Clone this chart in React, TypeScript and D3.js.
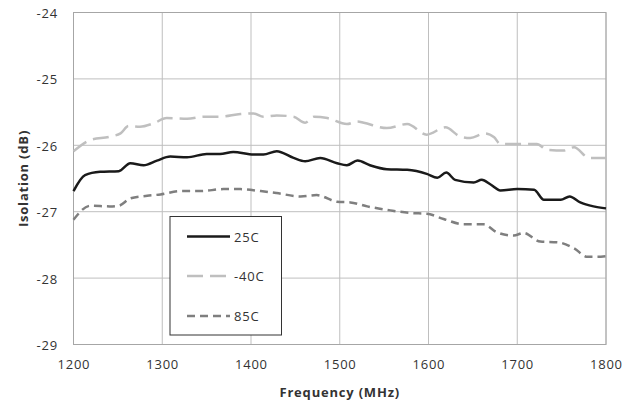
import React from "react";
import * as d3 from "d3";

const xTicks = [1200, 1300, 1400, 1500, 1600, 1700, 1800];
const yTicks = [-24, -25, -26, -27, -28, -29];

const freq25 = [1200, 1213, 1230, 1251, 1264, 1279, 1294, 1309, 1328, 1350, 1365, 1380, 1403, 1414, 1429, 1448, 1461, 1478, 1497, 1508, 1520, 1534, 1553, 1576, 1598, 1610, 1620, 1630, 1651, 1660, 1670, 1681, 1700, 1719, 1730, 1749, 1759, 1771, 1786, 1800];
const val25 = [-26.69, -26.45, -26.4, -26.39, -26.27, -26.3, -26.23, -26.17, -26.18, -26.13, -26.13, -26.1, -26.14, -26.14, -26.09, -26.19, -26.24, -26.19, -26.27, -26.3, -26.23, -26.3, -26.36, -26.37, -26.43, -26.49, -26.41, -26.52, -26.56, -26.52, -26.59, -26.68, -26.66, -26.67, -26.82, -26.82, -26.77, -26.86, -26.92, -26.95];

const freqM40 = [1200, 1219, 1241, 1253, 1262, 1275, 1290, 1305, 1328, 1347, 1365, 1388, 1403, 1414, 1429, 1448, 1461, 1471, 1486, 1508, 1520, 1527, 1553, 1576, 1598, 1619, 1636, 1647, 1664, 1674, 1681, 1715, 1722, 1734, 1752, 1764, 1781, 1790, 1800];
const valM40 = [-26.09, -25.92, -25.87, -25.82, -25.71, -25.72, -25.67, -25.59, -25.6, -25.57, -25.57, -25.53, -25.52, -25.57, -25.55, -25.57, -25.66, -25.57, -25.59, -25.68, -25.64, -25.66, -25.74, -25.68, -25.84, -25.73, -25.87, -25.89, -25.82, -25.88, -25.98, -25.98, -25.98, -26.07, -26.08, -26.03, -26.19, -26.19, -26.19];

const freq85 = [1200, 1219, 1241, 1251, 1264, 1283, 1298, 1320, 1343, 1369, 1388, 1411, 1429, 1456, 1474, 1497, 1512, 1531, 1557, 1580, 1598, 1617, 1640, 1662, 1677, 1696, 1707, 1726, 1745, 1764, 1779, 1790, 1800];
const val85 = [-27.12, -26.91, -26.92, -26.91, -26.8, -26.76, -26.74, -26.69, -26.69, -26.66, -26.66, -26.69, -26.72, -26.77, -26.75, -26.85, -26.86, -26.92, -26.98, -27.02, -27.03, -27.11, -27.19, -27.19, -27.31, -27.36, -27.32, -27.45, -27.46, -27.55, -27.68, -27.68, -27.67];

const seriesNames = ["25C", "-40C", "85C"];

const series = [
  { name: seriesNames[0], f: freq25, v: val25, color: "#1a1a1a", dash: "none" },
  { name: seriesNames[1], f: freqM40, v: valM40, color: "#bfbfbf", dash: "16,7" },
  { name: seriesNames[2], f: freq85, v: val85, color: "#7f7f7f", dash: "8,5" },
];

export default function App() {
  const W = 636, H = 404;
  const left = 73.5, right = 606, top = 12.5, bottom = 344.5;
  const x = d3.scaleLinear().domain([1200, 1800]).range([left, right]);
  const y = d3.scaleLinear().domain([-29, -24]).range([bottom, top]);
  const font = "Open Sans, Calibri, Carlito, sans-serif";
  const ls = 0.8;

  const line = d3
    .line<[number, number]>()
    .x((d) => x(d[0]))
    .y((d) => y(d[1]))
    .curve(d3.curveMonotoneX);

  const legX = 170, legY = 216.5, legW = 111.5, legH = 118.5;
  const legRows = [236.5, 276, 316];

  return (
    <svg
      width={W}
      height={H}
      style={{ position: "absolute", left: 0, top: 0, background: "#fff" }}
      fontFamily={font}
    >
      {xTicks.map((t) => (
        <line key={"gx" + t} x1={x(t)} x2={x(t)} y1={top} y2={bottom} stroke="#bfbfbf" strokeWidth={1} />
      ))}
      {yTicks.map((t) => (
        <line key={"gy" + t} x1={left} x2={right} y1={y(t)} y2={y(t)} stroke="#bfbfbf" strokeWidth={1} />
      ))}
      <rect x={left} y={top} width={right - left} height={bottom - top} fill="none" stroke="#a6a6a6" strokeWidth={1} />
      {series.map((s) => (
        <path
          key={s.name}
          d={line(s.f.map((f, i) => [f, s.v[i]] as [number, number])) || ""}
          fill="none"
          stroke={s.color}
          strokeWidth={2.5}
          strokeDasharray={s.dash}
          strokeLinejoin="round"
        />
      ))}
      {yTicks.map((t) => (
        <text key={"ty" + t} x={58} y={y(t) + 5.5} textAnchor="end" fontSize={13} letterSpacing={ls} fill="#333">
          {t}
        </text>
      ))}
      {xTicks.map((t) => (
        <text key={"tx" + t} x={x(t) + ls / 2} y={369} textAnchor="middle" fontSize={13} letterSpacing={ls} fill="#333">
          {t}
        </text>
      ))}
      <text x={(left + right) / 2} y={396.5} textAnchor="middle" fontSize={13} letterSpacing={ls} fontWeight="bold" fill="#333">
        Frequency (MHz)
      </text>
      <text
        transform={`translate(27.5,${(top + bottom) / 2}) rotate(-90)`}
        textAnchor="middle"
        fontSize={13}
        letterSpacing={ls}
        fontWeight="bold"
        fill="#333"
      >
        Isolation (dB)
      </text>
      <rect x={legX} y={legY} width={legW} height={legH} fill="#fff" stroke="#333" strokeWidth={1} />
      {series.map((s, i) => (
        <g key={"leg" + s.name}>
          <line
            x1={187}
            x2={230}
            y1={legRows[i]}
            y2={legRows[i]}
            stroke={s.color}
            strokeWidth={2.5}
            strokeDasharray={s.dash}
          />
          <text x={234} y={legRows[i] + 5} fontSize={13} letterSpacing={ls} fill="#333">
            {s.name}
          </text>
        </g>
      ))}
    </svg>
  );
}
